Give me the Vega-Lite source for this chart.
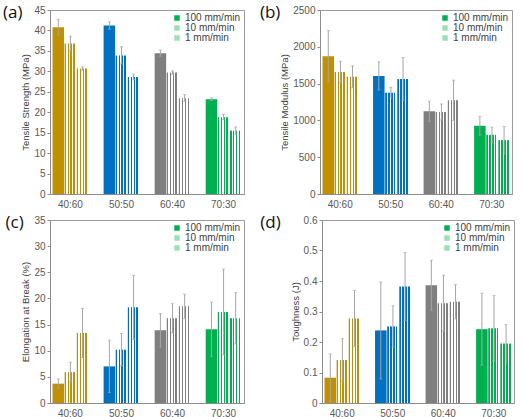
{
  "$schema": "https://vega.github.io/schema/vega-lite/v6.json",
  "padding": {"left": 2, "top": 3, "right": 0, "bottom": 0},
  "background": "white",
  "resolve": {"scale": {"color": "independent"}, "legend": {"color": "independent"}},
  "config": {
    "view": {"stroke": "#9a9a9a", "strokeWidth": 1},
    "axis": {"labelFont": "Liberation Sans", "labelFontSize": 10, "labelColor": "#595959", "titleFont": "Liberation Sans", "titleFontSize": 9.5, "titleColor": "#404040", "titleFontWeight": "normal", "grid": false, "domainColor": "#8c8c8c", "tickColor": "#8c8c8c"},
    "axisY": {"tickSize": 3, "labelPadding": 2, "titlePadding": 3},
    "axisX": {"ticks": false, "labelPadding": 5, "labelAngle": 0},
    "legend": {"orient": "top-right", "offset": 3, "labelFont": "Liberation Sans", "labelFontSize": 10, "labelColor": "#404040", "symbolType": "square", "symbolSize": 30, "symbolStrokeWidth": 0, "rowPadding": 0, "labelOffset": 3},
    "title": {"font": "Open Sans", "fontSize": 17, "fontWeight": "normal", "color": "#111111"}
  },
  "vconcat": [
    {"hconcat": [
      {
        "width": 194, "height": 184,
        "title": {"text": "(a)", "orient": "left", "anchor": "end", "angle": 0, "baseline": "top", "align": "right", "offset": 2, "dx": 23},
        "data": {"values": [
          {"ratio": "40:60", "speed": "100", "v": 40.8, "lo": 38.9, "hi": 42.7},
          {"ratio": "40:60", "speed": "10", "v": 36.8, "lo": 35.0, "hi": 38.6},
          {"ratio": "40:60", "speed": "1", "v": 30.7, "lo": 30.3, "hi": 31.1},
          {"ratio": "50:50", "speed": "100", "v": 41.2, "lo": 40.3, "hi": 42.1},
          {"ratio": "50:50", "speed": "10", "v": 33.9, "lo": 31.8, "hi": 36.0},
          {"ratio": "50:50", "speed": "1", "v": 28.6, "lo": 27.9, "hi": 29.3},
          {"ratio": "60:40", "speed": "100", "v": 34.4, "lo": 33.7, "hi": 35.2},
          {"ratio": "60:40", "speed": "10", "v": 29.7, "lo": 29.3, "hi": 30.1},
          {"ratio": "60:40", "speed": "1", "v": 23.4, "lo": 22.6, "hi": 24.3},
          {"ratio": "70:30", "speed": "100", "v": 23.2, "lo": 22.9, "hi": 23.5},
          {"ratio": "70:30", "speed": "10", "v": 18.8, "lo": 18.2, "hi": 19.5},
          {"ratio": "70:30", "speed": "1", "v": 15.5, "lo": 14.6, "hi": 16.4}
        ]},
        "encoding": {
          "x": {"field": "ratio", "type": "nominal", "scale": {"domain": ["40:60", "50:50", "60:40", "70:30"], "paddingInner": 0.3, "paddingOuter": 0.05}, "axis": {"title": null}},
          "xOffset": {"field": "speed", "type": "nominal", "scale": {"domain": ["100", "10", "1"], "paddingInner": 0.05}}
        },
        "layer": [
          {"mark": {"type": "bar"},
           "encoding": {
             "y": {"field": "v", "type": "quantitative", "scale": {"domain": [0, 45], "nice": false}, "axis": {"values": [0, 5, 10, 15, 20, 25, 30, 35, 40, 45], "title": "Tensile Strength (MPa)"}, "title": "Tensile Strength (MPa)"},
             "fill": {"condition": [
               {"test": "datum.speed === '100' && datum.ratio === '40:60'", "value": "#BF9000"},
               {"test": "datum.speed === '100' && datum.ratio === '50:50'", "value": "#0070C0"},
               {"test": "datum.speed === '100' && datum.ratio === '60:40'", "value": "#7F7F7F"},
               {"test": "datum.speed === '100' && datum.ratio === '70:30'", "value": "#00B050"},
               {"test": "datum.ratio === '40:60'", "value": {"gradient": "linear", "x1": 0, "y1": 0, "x2": 1, "y2": 0, "stops": [{"offset": 0, "color": "#BF9000"}, {"offset": 0.14, "color": "#BF9000"}, {"offset": 0.14, "color": "#ffffff"}, {"offset": 0.25, "color": "#ffffff"}, {"offset": 0.25, "color": "#BF9000"}, {"offset": 0.39, "color": "#BF9000"}, {"offset": 0.39, "color": "#ffffff"}, {"offset": 0.5, "color": "#ffffff"}, {"offset": 0.5, "color": "#BF9000"}, {"offset": 0.64, "color": "#BF9000"}, {"offset": 0.64, "color": "#ffffff"}, {"offset": 0.75, "color": "#ffffff"}, {"offset": 0.75, "color": "#BF9000"}, {"offset": 0.89, "color": "#BF9000"}, {"offset": 0.89, "color": "#ffffff"}, {"offset": 1, "color": "#ffffff"}]}},
               {"test": "datum.ratio === '50:50'", "value": {"gradient": "linear", "x1": 0, "y1": 0, "x2": 1, "y2": 0, "stops": [{"offset": 0, "color": "#0070C0"}, {"offset": 0.14, "color": "#0070C0"}, {"offset": 0.14, "color": "#ffffff"}, {"offset": 0.25, "color": "#ffffff"}, {"offset": 0.25, "color": "#0070C0"}, {"offset": 0.39, "color": "#0070C0"}, {"offset": 0.39, "color": "#ffffff"}, {"offset": 0.5, "color": "#ffffff"}, {"offset": 0.5, "color": "#0070C0"}, {"offset": 0.64, "color": "#0070C0"}, {"offset": 0.64, "color": "#ffffff"}, {"offset": 0.75, "color": "#ffffff"}, {"offset": 0.75, "color": "#0070C0"}, {"offset": 0.89, "color": "#0070C0"}, {"offset": 0.89, "color": "#ffffff"}, {"offset": 1, "color": "#ffffff"}]}},
               {"test": "datum.ratio === '60:40'", "value": {"gradient": "linear", "x1": 0, "y1": 0, "x2": 1, "y2": 0, "stops": [{"offset": 0, "color": "#7F7F7F"}, {"offset": 0.14, "color": "#7F7F7F"}, {"offset": 0.14, "color": "#ffffff"}, {"offset": 0.25, "color": "#ffffff"}, {"offset": 0.25, "color": "#7F7F7F"}, {"offset": 0.39, "color": "#7F7F7F"}, {"offset": 0.39, "color": "#ffffff"}, {"offset": 0.5, "color": "#ffffff"}, {"offset": 0.5, "color": "#7F7F7F"}, {"offset": 0.64, "color": "#7F7F7F"}, {"offset": 0.64, "color": "#ffffff"}, {"offset": 0.75, "color": "#ffffff"}, {"offset": 0.75, "color": "#7F7F7F"}, {"offset": 0.89, "color": "#7F7F7F"}, {"offset": 0.89, "color": "#ffffff"}, {"offset": 1, "color": "#ffffff"}]}}
             ], "value": {"gradient": "linear", "x1": 0, "y1": 0, "x2": 1, "y2": 0, "stops": [{"offset": 0, "color": "#00B050"}, {"offset": 0.14, "color": "#00B050"}, {"offset": 0.14, "color": "#ffffff"}, {"offset": 0.25, "color": "#ffffff"}, {"offset": 0.25, "color": "#00B050"}, {"offset": 0.39, "color": "#00B050"}, {"offset": 0.39, "color": "#ffffff"}, {"offset": 0.5, "color": "#ffffff"}, {"offset": 0.5, "color": "#00B050"}, {"offset": 0.64, "color": "#00B050"}, {"offset": 0.64, "color": "#ffffff"}, {"offset": 0.75, "color": "#ffffff"}, {"offset": 0.75, "color": "#00B050"}, {"offset": 0.89, "color": "#00B050"}, {"offset": 0.89, "color": "#ffffff"}, {"offset": 1, "color": "#ffffff"}]}}
           }},
          {"mark": {"type": "rule", "color": "#a6a6a6", "strokeWidth": 1},
           "encoding": {
             "y": {"field": "lo", "type": "quantitative", "scale": {"domain": [0, 45], "nice": false}, "axis": {"values": [0, 5, 10, 15, 20, 25, 30, 35, 40, 45], "title": "Tensile Strength (MPa)"}, "title": "Tensile Strength (MPa)"},
             "y2": {"field": "hi"}
           }},
          {"mark": {"type": "tick", "color": "#a6a6a6", "size": 3, "thickness": 1},
           "encoding": {"y": {"field": "lo", "type": "quantitative", "scale": {"domain": [0, 45], "nice": false}, "axis": {"values": [0, 5, 10, 15, 20, 25, 30, 35, 40, 45], "title": "Tensile Strength (MPa)"}, "title": "Tensile Strength (MPa)"}}},
          {"mark": {"type": "tick", "color": "#a6a6a6", "size": 3, "thickness": 1},
           "encoding": {"y": {"field": "hi", "type": "quantitative", "scale": {"domain": [0, 45], "nice": false}, "axis": {"values": [0, 5, 10, 15, 20, 25, 30, 35, 40, 45], "title": "Tensile Strength (MPa)"}, "title": "Tensile Strength (MPa)"}}},
          {"transform": [{"filter": "false"}],
           "mark": {"type": "point", "shape": "square", "filled": true, "opacity": 1},
           "encoding": {
             "color": {"field": "speed", "type": "nominal", "scale": {"domain": ["100", "10", "1"], "range": ["#00B050", "#9be0b5", "#9be0b5"]}, "legend": {"title": null, "labelExpr": "datum.label + ' mm/min'"}}
           }}
        ]
      },
      {
        "width": 192, "height": 184,
        "title": {"text": "(b)", "orient": "left", "anchor": "end", "angle": 0, "baseline": "top", "align": "right", "offset": 2, "dx": 23},
        "data": {"values": [
          {"ratio": "40:60", "speed": "100", "v": 1873, "lo": 1523, "hi": 2222},
          {"ratio": "40:60", "speed": "10", "v": 1657, "lo": 1510, "hi": 1805},
          {"ratio": "40:60", "speed": "1", "v": 1593, "lo": 1443, "hi": 1743},
          {"ratio": "50:50", "speed": "100", "v": 1604, "lo": 1413, "hi": 1795},
          {"ratio": "50:50", "speed": "10", "v": 1377, "lo": 1305, "hi": 1450},
          {"ratio": "50:50", "speed": "1", "v": 1563, "lo": 1272, "hi": 1854},
          {"ratio": "60:40", "speed": "100", "v": 1123, "lo": 987, "hi": 1259},
          {"ratio": "60:40", "speed": "10", "v": 1114, "lo": 1005, "hi": 1223},
          {"ratio": "60:40", "speed": "1", "v": 1273, "lo": 1000, "hi": 1546},
          {"ratio": "70:30", "speed": "100", "v": 927, "lo": 800, "hi": 1055},
          {"ratio": "70:30", "speed": "10", "v": 804, "lo": 700, "hi": 909},
          {"ratio": "70:30", "speed": "1", "v": 732, "lo": 546, "hi": 918}
        ]},
        "encoding": {
          "x": {"field": "ratio", "type": "nominal", "scale": {"domain": ["40:60", "50:50", "60:40", "70:30"], "paddingInner": 0.3, "paddingOuter": 0.05}, "axis": {"title": null}},
          "xOffset": {"field": "speed", "type": "nominal", "scale": {"domain": ["100", "10", "1"], "paddingInner": 0.05}}
        },
        "layer": [
          {"mark": {"type": "bar"},
           "encoding": {
             "y": {"field": "v", "type": "quantitative", "scale": {"domain": [0, 2500], "nice": false}, "axis": {"values": [0, 500, 1000, 1500, 2000, 2500], "format": "d", "title": "Tensile Modulus (MPa)"}, "title": "Tensile Modulus (MPa)"},
             "fill": {"condition": [
               {"test": "datum.speed === '100' && datum.ratio === '40:60'", "value": "#BF9000"},
               {"test": "datum.speed === '100' && datum.ratio === '50:50'", "value": "#0070C0"},
               {"test": "datum.speed === '100' && datum.ratio === '60:40'", "value": "#7F7F7F"},
               {"test": "datum.speed === '100' && datum.ratio === '70:30'", "value": "#00B050"},
               {"test": "datum.ratio === '40:60'", "value": {"gradient": "linear", "x1": 0, "y1": 0, "x2": 1, "y2": 0, "stops": [{"offset": 0, "color": "#BF9000"}, {"offset": 0.14, "color": "#BF9000"}, {"offset": 0.14, "color": "#ffffff"}, {"offset": 0.25, "color": "#ffffff"}, {"offset": 0.25, "color": "#BF9000"}, {"offset": 0.39, "color": "#BF9000"}, {"offset": 0.39, "color": "#ffffff"}, {"offset": 0.5, "color": "#ffffff"}, {"offset": 0.5, "color": "#BF9000"}, {"offset": 0.64, "color": "#BF9000"}, {"offset": 0.64, "color": "#ffffff"}, {"offset": 0.75, "color": "#ffffff"}, {"offset": 0.75, "color": "#BF9000"}, {"offset": 0.89, "color": "#BF9000"}, {"offset": 0.89, "color": "#ffffff"}, {"offset": 1, "color": "#ffffff"}]}},
               {"test": "datum.ratio === '50:50'", "value": {"gradient": "linear", "x1": 0, "y1": 0, "x2": 1, "y2": 0, "stops": [{"offset": 0, "color": "#0070C0"}, {"offset": 0.14, "color": "#0070C0"}, {"offset": 0.14, "color": "#ffffff"}, {"offset": 0.25, "color": "#ffffff"}, {"offset": 0.25, "color": "#0070C0"}, {"offset": 0.39, "color": "#0070C0"}, {"offset": 0.39, "color": "#ffffff"}, {"offset": 0.5, "color": "#ffffff"}, {"offset": 0.5, "color": "#0070C0"}, {"offset": 0.64, "color": "#0070C0"}, {"offset": 0.64, "color": "#ffffff"}, {"offset": 0.75, "color": "#ffffff"}, {"offset": 0.75, "color": "#0070C0"}, {"offset": 0.89, "color": "#0070C0"}, {"offset": 0.89, "color": "#ffffff"}, {"offset": 1, "color": "#ffffff"}]}},
               {"test": "datum.ratio === '60:40'", "value": {"gradient": "linear", "x1": 0, "y1": 0, "x2": 1, "y2": 0, "stops": [{"offset": 0, "color": "#7F7F7F"}, {"offset": 0.14, "color": "#7F7F7F"}, {"offset": 0.14, "color": "#ffffff"}, {"offset": 0.25, "color": "#ffffff"}, {"offset": 0.25, "color": "#7F7F7F"}, {"offset": 0.39, "color": "#7F7F7F"}, {"offset": 0.39, "color": "#ffffff"}, {"offset": 0.5, "color": "#ffffff"}, {"offset": 0.5, "color": "#7F7F7F"}, {"offset": 0.64, "color": "#7F7F7F"}, {"offset": 0.64, "color": "#ffffff"}, {"offset": 0.75, "color": "#ffffff"}, {"offset": 0.75, "color": "#7F7F7F"}, {"offset": 0.89, "color": "#7F7F7F"}, {"offset": 0.89, "color": "#ffffff"}, {"offset": 1, "color": "#ffffff"}]}}
             ], "value": {"gradient": "linear", "x1": 0, "y1": 0, "x2": 1, "y2": 0, "stops": [{"offset": 0, "color": "#00B050"}, {"offset": 0.14, "color": "#00B050"}, {"offset": 0.14, "color": "#ffffff"}, {"offset": 0.25, "color": "#ffffff"}, {"offset": 0.25, "color": "#00B050"}, {"offset": 0.39, "color": "#00B050"}, {"offset": 0.39, "color": "#ffffff"}, {"offset": 0.5, "color": "#ffffff"}, {"offset": 0.5, "color": "#00B050"}, {"offset": 0.64, "color": "#00B050"}, {"offset": 0.64, "color": "#ffffff"}, {"offset": 0.75, "color": "#ffffff"}, {"offset": 0.75, "color": "#00B050"}, {"offset": 0.89, "color": "#00B050"}, {"offset": 0.89, "color": "#ffffff"}, {"offset": 1, "color": "#ffffff"}]}}
           }},
          {"mark": {"type": "rule", "color": "#a6a6a6", "strokeWidth": 1},
           "encoding": {
             "y": {"field": "lo", "type": "quantitative", "scale": {"domain": [0, 2500], "nice": false}, "axis": {"values": [0, 500, 1000, 1500, 2000, 2500], "format": "d", "title": "Tensile Modulus (MPa)"}, "title": "Tensile Modulus (MPa)"},
             "y2": {"field": "hi"}
           }},
          {"mark": {"type": "tick", "color": "#a6a6a6", "size": 3, "thickness": 1},
           "encoding": {"y": {"field": "lo", "type": "quantitative", "scale": {"domain": [0, 2500], "nice": false}, "axis": {"values": [0, 500, 1000, 1500, 2000, 2500], "format": "d", "title": "Tensile Modulus (MPa)"}, "title": "Tensile Modulus (MPa)"}}},
          {"mark": {"type": "tick", "color": "#a6a6a6", "size": 3, "thickness": 1},
           "encoding": {"y": {"field": "hi", "type": "quantitative", "scale": {"domain": [0, 2500], "nice": false}, "axis": {"values": [0, 500, 1000, 1500, 2000, 2500], "format": "d", "title": "Tensile Modulus (MPa)"}, "title": "Tensile Modulus (MPa)"}}},
          {"transform": [{"filter": "false"}],
           "mark": {"type": "point", "shape": "square", "filled": true, "opacity": 1},
           "encoding": {
             "color": {"field": "speed", "type": "nominal", "scale": {"domain": ["100", "10", "1"], "range": ["#00B050", "#9be0b5", "#9be0b5"]}, "legend": {"title": null, "labelExpr": "datum.label + ' mm/min'"}}
           }}
        ]
      }
    ], "spacing": 14, "resolve": {"scale": {"color": "independent"}, "legend": {"color": "independent"}}},
    {"hconcat": [
      {
        "width": 194, "height": 183,
        "title": {"text": "(c)", "orient": "left", "anchor": "end", "angle": 0, "baseline": "top", "align": "right", "offset": 2, "dx": 23},
        "data": {"values": [
          {"ratio": "40:60", "speed": "100", "v": 3.7, "lo": 2.8, "hi": 4.6},
          {"ratio": "40:60", "speed": "10", "v": 5.9, "lo": 4.0, "hi": 7.8},
          {"ratio": "40:60", "speed": "1", "v": 13.4, "lo": 8.7, "hi": 18.1},
          {"ratio": "50:50", "speed": "100", "v": 7.0, "lo": 2.0, "hi": 12.0},
          {"ratio": "50:50", "speed": "10", "v": 10.2, "lo": 7.1, "hi": 13.3},
          {"ratio": "50:50", "speed": "1", "v": 18.3, "lo": 12.2, "hi": 24.4},
          {"ratio": "60:40", "speed": "100", "v": 13.9, "lo": 10.7, "hi": 17.1},
          {"ratio": "60:40", "speed": "10", "v": 16.2, "lo": 13.4, "hi": 19.0},
          {"ratio": "60:40", "speed": "1", "v": 18.5, "lo": 16.2, "hi": 20.8},
          {"ratio": "70:30", "speed": "100", "v": 14.1, "lo": 8.9, "hi": 19.3},
          {"ratio": "70:30", "speed": "10", "v": 17.4, "lo": 9.2, "hi": 25.6},
          {"ratio": "70:30", "speed": "1", "v": 16.2, "lo": 11.3, "hi": 21.1}
        ]},
        "encoding": {
          "x": {"field": "ratio", "type": "nominal", "scale": {"domain": ["40:60", "50:50", "60:40", "70:30"], "paddingInner": 0.3, "paddingOuter": 0.05}, "axis": {"title": null}},
          "xOffset": {"field": "speed", "type": "nominal", "scale": {"domain": ["100", "10", "1"], "paddingInner": 0.05}}
        },
        "layer": [
          {"mark": {"type": "bar"},
           "encoding": {
             "y": {"field": "v", "type": "quantitative", "scale": {"domain": [0, 35], "nice": false}, "axis": {"values": [0, 5, 10, 15, 20, 25, 30, 35], "title": "Elongation at Break (%)"}, "title": "Elongation at Break (%)"},
             "fill": {"condition": [
               {"test": "datum.speed === '100' && datum.ratio === '40:60'", "value": "#BF9000"},
               {"test": "datum.speed === '100' && datum.ratio === '50:50'", "value": "#0070C0"},
               {"test": "datum.speed === '100' && datum.ratio === '60:40'", "value": "#7F7F7F"},
               {"test": "datum.speed === '100' && datum.ratio === '70:30'", "value": "#00B050"},
               {"test": "datum.ratio === '40:60'", "value": {"gradient": "linear", "x1": 0, "y1": 0, "x2": 1, "y2": 0, "stops": [{"offset": 0, "color": "#BF9000"}, {"offset": 0.14, "color": "#BF9000"}, {"offset": 0.14, "color": "#ffffff"}, {"offset": 0.25, "color": "#ffffff"}, {"offset": 0.25, "color": "#BF9000"}, {"offset": 0.39, "color": "#BF9000"}, {"offset": 0.39, "color": "#ffffff"}, {"offset": 0.5, "color": "#ffffff"}, {"offset": 0.5, "color": "#BF9000"}, {"offset": 0.64, "color": "#BF9000"}, {"offset": 0.64, "color": "#ffffff"}, {"offset": 0.75, "color": "#ffffff"}, {"offset": 0.75, "color": "#BF9000"}, {"offset": 0.89, "color": "#BF9000"}, {"offset": 0.89, "color": "#ffffff"}, {"offset": 1, "color": "#ffffff"}]}},
               {"test": "datum.ratio === '50:50'", "value": {"gradient": "linear", "x1": 0, "y1": 0, "x2": 1, "y2": 0, "stops": [{"offset": 0, "color": "#0070C0"}, {"offset": 0.14, "color": "#0070C0"}, {"offset": 0.14, "color": "#ffffff"}, {"offset": 0.25, "color": "#ffffff"}, {"offset": 0.25, "color": "#0070C0"}, {"offset": 0.39, "color": "#0070C0"}, {"offset": 0.39, "color": "#ffffff"}, {"offset": 0.5, "color": "#ffffff"}, {"offset": 0.5, "color": "#0070C0"}, {"offset": 0.64, "color": "#0070C0"}, {"offset": 0.64, "color": "#ffffff"}, {"offset": 0.75, "color": "#ffffff"}, {"offset": 0.75, "color": "#0070C0"}, {"offset": 0.89, "color": "#0070C0"}, {"offset": 0.89, "color": "#ffffff"}, {"offset": 1, "color": "#ffffff"}]}},
               {"test": "datum.ratio === '60:40'", "value": {"gradient": "linear", "x1": 0, "y1": 0, "x2": 1, "y2": 0, "stops": [{"offset": 0, "color": "#7F7F7F"}, {"offset": 0.14, "color": "#7F7F7F"}, {"offset": 0.14, "color": "#ffffff"}, {"offset": 0.25, "color": "#ffffff"}, {"offset": 0.25, "color": "#7F7F7F"}, {"offset": 0.39, "color": "#7F7F7F"}, {"offset": 0.39, "color": "#ffffff"}, {"offset": 0.5, "color": "#ffffff"}, {"offset": 0.5, "color": "#7F7F7F"}, {"offset": 0.64, "color": "#7F7F7F"}, {"offset": 0.64, "color": "#ffffff"}, {"offset": 0.75, "color": "#ffffff"}, {"offset": 0.75, "color": "#7F7F7F"}, {"offset": 0.89, "color": "#7F7F7F"}, {"offset": 0.89, "color": "#ffffff"}, {"offset": 1, "color": "#ffffff"}]}}
             ], "value": {"gradient": "linear", "x1": 0, "y1": 0, "x2": 1, "y2": 0, "stops": [{"offset": 0, "color": "#00B050"}, {"offset": 0.14, "color": "#00B050"}, {"offset": 0.14, "color": "#ffffff"}, {"offset": 0.25, "color": "#ffffff"}, {"offset": 0.25, "color": "#00B050"}, {"offset": 0.39, "color": "#00B050"}, {"offset": 0.39, "color": "#ffffff"}, {"offset": 0.5, "color": "#ffffff"}, {"offset": 0.5, "color": "#00B050"}, {"offset": 0.64, "color": "#00B050"}, {"offset": 0.64, "color": "#ffffff"}, {"offset": 0.75, "color": "#ffffff"}, {"offset": 0.75, "color": "#00B050"}, {"offset": 0.89, "color": "#00B050"}, {"offset": 0.89, "color": "#ffffff"}, {"offset": 1, "color": "#ffffff"}]}}
           }},
          {"mark": {"type": "rule", "color": "#a6a6a6", "strokeWidth": 1},
           "encoding": {
             "y": {"field": "lo", "type": "quantitative", "scale": {"domain": [0, 35], "nice": false}, "axis": {"values": [0, 5, 10, 15, 20, 25, 30, 35], "title": "Elongation at Break (%)"}, "title": "Elongation at Break (%)"},
             "y2": {"field": "hi"}
           }},
          {"mark": {"type": "tick", "color": "#a6a6a6", "size": 3, "thickness": 1},
           "encoding": {"y": {"field": "lo", "type": "quantitative", "scale": {"domain": [0, 35], "nice": false}, "axis": {"values": [0, 5, 10, 15, 20, 25, 30, 35], "title": "Elongation at Break (%)"}, "title": "Elongation at Break (%)"}}},
          {"mark": {"type": "tick", "color": "#a6a6a6", "size": 3, "thickness": 1},
           "encoding": {"y": {"field": "hi", "type": "quantitative", "scale": {"domain": [0, 35], "nice": false}, "axis": {"values": [0, 5, 10, 15, 20, 25, 30, 35], "title": "Elongation at Break (%)"}, "title": "Elongation at Break (%)"}}},
          {"transform": [{"filter": "false"}],
           "mark": {"type": "point", "shape": "square", "filled": true, "opacity": 1},
           "encoding": {
             "color": {"field": "speed", "type": "nominal", "scale": {"domain": ["100", "10", "1"], "range": ["#00B050", "#9be0b5", "#9be0b5"]}, "legend": {"title": null, "labelExpr": "datum.label + ' mm/min'"}}
           }}
        ]
      },
      {
        "width": 192, "height": 183,
        "title": {"text": "(d)", "orient": "left", "anchor": "end", "angle": 0, "baseline": "top", "align": "right", "offset": 2, "dx": 13},
        "data": {"values": [
          {"ratio": "40:60", "speed": "100", "v": 0.083, "lo": 0.005, "hi": 0.161},
          {"ratio": "40:60", "speed": "10", "v": 0.141, "lo": 0.071, "hi": 0.211},
          {"ratio": "40:60", "speed": "1", "v": 0.277, "lo": 0.185, "hi": 0.369},
          {"ratio": "50:50", "speed": "100", "v": 0.238, "lo": 0.079, "hi": 0.397},
          {"ratio": "50:50", "speed": "10", "v": 0.251, "lo": 0.183, "hi": 0.319},
          {"ratio": "50:50", "speed": "1", "v": 0.382, "lo": 0.271, "hi": 0.493},
          {"ratio": "60:40", "speed": "100", "v": 0.386, "lo": 0.304, "hi": 0.468},
          {"ratio": "60:40", "speed": "10", "v": 0.327, "lo": 0.235, "hi": 0.419},
          {"ratio": "60:40", "speed": "1", "v": 0.332, "lo": 0.276, "hi": 0.388},
          {"ratio": "70:30", "speed": "100", "v": 0.242, "lo": 0.124, "hi": 0.36},
          {"ratio": "70:30", "speed": "10", "v": 0.245, "lo": 0.138, "hi": 0.352},
          {"ratio": "70:30", "speed": "1", "v": 0.195, "lo": 0.133, "hi": 0.257}
        ]},
        "encoding": {
          "x": {"field": "ratio", "type": "nominal", "scale": {"domain": ["40:60", "50:50", "60:40", "70:30"], "paddingInner": 0.3, "paddingOuter": 0.05}, "axis": {"title": null}},
          "xOffset": {"field": "speed", "type": "nominal", "scale": {"domain": ["100", "10", "1"], "paddingInner": 0.05}}
        },
        "layer": [
          {"mark": {"type": "bar"},
           "encoding": {
             "y": {"field": "v", "type": "quantitative", "scale": {"domain": [0, 0.6], "nice": false}, "axis": {"values": [0, 0.1, 0.2, 0.3, 0.4, 0.5, 0.6], "format": "~g", "title": "Toughness (J)"}, "title": "Toughness (J)"},
             "fill": {"condition": [
               {"test": "datum.speed === '100' && datum.ratio === '40:60'", "value": "#BF9000"},
               {"test": "datum.speed === '100' && datum.ratio === '50:50'", "value": "#0070C0"},
               {"test": "datum.speed === '100' && datum.ratio === '60:40'", "value": "#7F7F7F"},
               {"test": "datum.speed === '100' && datum.ratio === '70:30'", "value": "#00B050"},
               {"test": "datum.ratio === '40:60'", "value": {"gradient": "linear", "x1": 0, "y1": 0, "x2": 1, "y2": 0, "stops": [{"offset": 0, "color": "#BF9000"}, {"offset": 0.14, "color": "#BF9000"}, {"offset": 0.14, "color": "#ffffff"}, {"offset": 0.25, "color": "#ffffff"}, {"offset": 0.25, "color": "#BF9000"}, {"offset": 0.39, "color": "#BF9000"}, {"offset": 0.39, "color": "#ffffff"}, {"offset": 0.5, "color": "#ffffff"}, {"offset": 0.5, "color": "#BF9000"}, {"offset": 0.64, "color": "#BF9000"}, {"offset": 0.64, "color": "#ffffff"}, {"offset": 0.75, "color": "#ffffff"}, {"offset": 0.75, "color": "#BF9000"}, {"offset": 0.89, "color": "#BF9000"}, {"offset": 0.89, "color": "#ffffff"}, {"offset": 1, "color": "#ffffff"}]}},
               {"test": "datum.ratio === '50:50'", "value": {"gradient": "linear", "x1": 0, "y1": 0, "x2": 1, "y2": 0, "stops": [{"offset": 0, "color": "#0070C0"}, {"offset": 0.14, "color": "#0070C0"}, {"offset": 0.14, "color": "#ffffff"}, {"offset": 0.25, "color": "#ffffff"}, {"offset": 0.25, "color": "#0070C0"}, {"offset": 0.39, "color": "#0070C0"}, {"offset": 0.39, "color": "#ffffff"}, {"offset": 0.5, "color": "#ffffff"}, {"offset": 0.5, "color": "#0070C0"}, {"offset": 0.64, "color": "#0070C0"}, {"offset": 0.64, "color": "#ffffff"}, {"offset": 0.75, "color": "#ffffff"}, {"offset": 0.75, "color": "#0070C0"}, {"offset": 0.89, "color": "#0070C0"}, {"offset": 0.89, "color": "#ffffff"}, {"offset": 1, "color": "#ffffff"}]}},
               {"test": "datum.ratio === '60:40'", "value": {"gradient": "linear", "x1": 0, "y1": 0, "x2": 1, "y2": 0, "stops": [{"offset": 0, "color": "#7F7F7F"}, {"offset": 0.14, "color": "#7F7F7F"}, {"offset": 0.14, "color": "#ffffff"}, {"offset": 0.25, "color": "#ffffff"}, {"offset": 0.25, "color": "#7F7F7F"}, {"offset": 0.39, "color": "#7F7F7F"}, {"offset": 0.39, "color": "#ffffff"}, {"offset": 0.5, "color": "#ffffff"}, {"offset": 0.5, "color": "#7F7F7F"}, {"offset": 0.64, "color": "#7F7F7F"}, {"offset": 0.64, "color": "#ffffff"}, {"offset": 0.75, "color": "#ffffff"}, {"offset": 0.75, "color": "#7F7F7F"}, {"offset": 0.89, "color": "#7F7F7F"}, {"offset": 0.89, "color": "#ffffff"}, {"offset": 1, "color": "#ffffff"}]}}
             ], "value": {"gradient": "linear", "x1": 0, "y1": 0, "x2": 1, "y2": 0, "stops": [{"offset": 0, "color": "#00B050"}, {"offset": 0.14, "color": "#00B050"}, {"offset": 0.14, "color": "#ffffff"}, {"offset": 0.25, "color": "#ffffff"}, {"offset": 0.25, "color": "#00B050"}, {"offset": 0.39, "color": "#00B050"}, {"offset": 0.39, "color": "#ffffff"}, {"offset": 0.5, "color": "#ffffff"}, {"offset": 0.5, "color": "#00B050"}, {"offset": 0.64, "color": "#00B050"}, {"offset": 0.64, "color": "#ffffff"}, {"offset": 0.75, "color": "#ffffff"}, {"offset": 0.75, "color": "#00B050"}, {"offset": 0.89, "color": "#00B050"}, {"offset": 0.89, "color": "#ffffff"}, {"offset": 1, "color": "#ffffff"}]}}
           }},
          {"mark": {"type": "rule", "color": "#a6a6a6", "strokeWidth": 1},
           "encoding": {
             "y": {"field": "lo", "type": "quantitative", "scale": {"domain": [0, 0.6], "nice": false}, "axis": {"values": [0, 0.1, 0.2, 0.3, 0.4, 0.5, 0.6], "format": "~g", "title": "Toughness (J)"}, "title": "Toughness (J)"},
             "y2": {"field": "hi"}
           }},
          {"mark": {"type": "tick", "color": "#a6a6a6", "size": 3, "thickness": 1},
           "encoding": {"y": {"field": "lo", "type": "quantitative", "scale": {"domain": [0, 0.6], "nice": false}, "axis": {"values": [0, 0.1, 0.2, 0.3, 0.4, 0.5, 0.6], "format": "~g", "title": "Toughness (J)"}, "title": "Toughness (J)"}}},
          {"mark": {"type": "tick", "color": "#a6a6a6", "size": 3, "thickness": 1},
           "encoding": {"y": {"field": "hi", "type": "quantitative", "scale": {"domain": [0, 0.6], "nice": false}, "axis": {"values": [0, 0.1, 0.2, 0.3, 0.4, 0.5, 0.6], "format": "~g", "title": "Toughness (J)"}, "title": "Toughness (J)"}}},
          {"transform": [{"filter": "false"}],
           "mark": {"type": "point", "shape": "square", "filled": true, "opacity": 1},
           "encoding": {
             "color": {"field": "speed", "type": "nominal", "scale": {"domain": ["100", "10", "1"], "range": ["#00B050", "#9be0b5", "#9be0b5"]}, "legend": {"title": null, "labelExpr": "datum.label + ' mm/min'"}}
           }}
        ]
      }
    ], "spacing": 14, "resolve": {"scale": {"color": "independent"}, "legend": {"color": "independent"}}}
  ],
  "spacing": 3
}
